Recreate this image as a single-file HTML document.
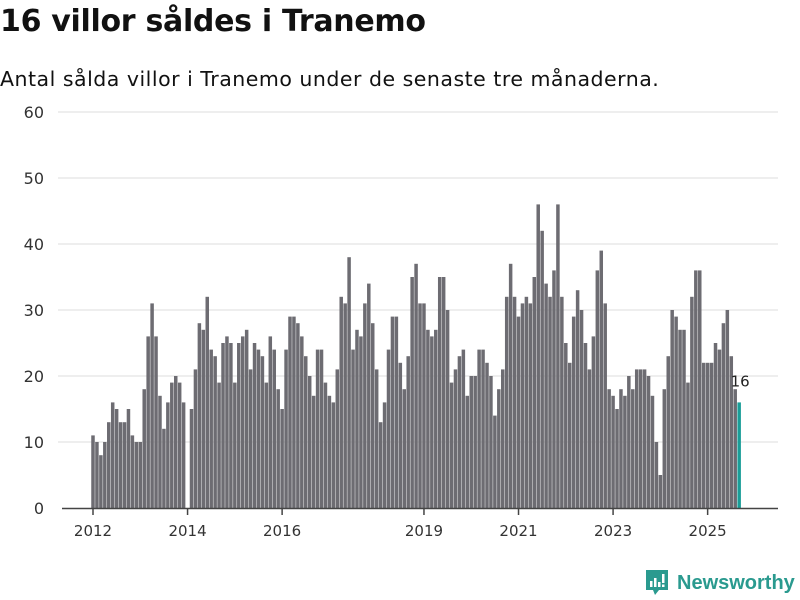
<!DOCTYPE html>
<html><head><meta charset="utf-8"><style>
body{margin:0;width:800px;height:600px;background:#fff;overflow:hidden;font-family:"Liberation Sans",sans-serif;}
#title{position:absolute;left:0;top:4px;font-size:30px;font-weight:bold;color:#111;white-space:nowrap;font-family:"DejaVu Sans",sans-serif;letter-spacing:-0.3px;}
#sub{position:absolute;left:0;top:67px;font-size:20.5px;color:#111;white-space:nowrap;font-family:"DejaVu Sans",sans-serif;letter-spacing:0.5px;}
#logo{position:absolute;left:645px;top:569px;display:flex;align-items:center;color:#2a9a8f;font-size:20px;font-weight:bold;}
</style></head><body>
<div id="title">16 villor såldes i Tranemo</div>
<div id="sub">Antal sålda villor i Tranemo under de senaste tre månaderna.</div>
<svg id="chart" width="800" height="600" style="position:absolute;left:0;top:0"></svg>
<div id="logo">
<svg width="24" height="28" viewBox="0 0 24 28"><path d="M1 1h22v20H14l-4 5-2-5H1z" fill="#2a9a8f"/><rect x="5" y="12" width="2.5" height="6" fill="#fff"/><rect x="9" y="9" width="2.5" height="9" fill="#fff"/><rect x="13" y="13" width="2.5" height="5" fill="#fff"/><rect x="17" y="5" width="2.5" height="9" fill="#fff"/><rect x="17" y="15.5" width="2.5" height="2.5" fill="#fff"/></svg>
<span style="margin-left:8px">Newsworthy</span></div>
<script>
const values=[11,10,8,10,13,16,15,13,13,15,11,10,10,18,26,31,26,17,12,16,19,20,19,16,null,
15,21,28,27,32,24,23,19,25,26,25,19,25,26,27,21,25,24,23,19,26,24,18,15,24,29,29,28,26,23,20,17,24,24,19,17,16,21,32,31,38,24,27,26,
31,34,28,21,13,16,24,29,29,22,18,23,35,37,31,31,27,26,27,35,35,30,19,21,23,24,17,20,20,24,24,22,20,14,
18,21,32,37,32,29,31,32,31,35,46,42,34,32,36,46,32,25,22,29,33,30,25,21,26,36,39,31,18,17,15,18,17,20,
18,21,21,21,20,17,10,5,18,23,30,29,27,27,19,32,36,36,22,22,22,25,24,28,30,23,18,16];
const yTicks=[0,10,20,30,40,50,60];
const xTickLabels=["2012","2014","2016","2019","2021","2023","2025"];
const xTickIndex=[0,24,48,84,108,132,156];
const lastLabel="16";
const NS="http://www.w3.org/2000/svg";
const svg=document.getElementById('chart');
const y=v=>508-v*6.6;
const x=i=>93+i*3.94;
function mk(t,a){const e=document.createElementNS(NS,t);for(const k in a)e.setAttribute(k,a[k]);svg.appendChild(e);return e;}
yTicks.forEach(v=>{
 if(v>0){const g=mk('line',{x1:58,x2:778,y1:y(v),y2:y(v),stroke:'#dcdcdc','stroke-width':1});
 
 }
 const t=mk('text',{x:44,y:y(v)+6,'text-anchor':'end','font-size':16,fill:'#333','font-family':'DejaVu Sans, sans-serif'});
 t.textContent=v;
 
 
});
values.forEach((v,i)=>{
 if(v==null)return;
 const last=i===values.length-1;
 const r=mk('rect',{x:x(i)-1.75,y:y(v),width:3.5,height:v*6.6,fill:last?'#1a9e98':'#6d6c72'});
 
 
});
const li=values.length-1;
const lb=mk('text',{x:x(li)+1,y:y(values[li])-16,'text-anchor':'middle','font-size':15,fill:'#222','font-family':'DejaVu Sans, sans-serif'});
lb.textContent=lastLabel;


const ax=mk('line',{x1:62,x2:778,y1:508.5,y2:508.5,stroke:'#444','stroke-width':1.5});


xTickLabels.forEach((l,k)=>{
 const tx=x(xTickIndex[k]);
 const tk=mk('line',{x1:tx,x2:tx,y1:508,y2:515,stroke:'#444','stroke-width':1.5});
 
 
 const t=mk('text',{x:tx,y:536,'text-anchor':'middle','font-size':15,fill:'#333','font-family':'DejaVu Sans, sans-serif'});
 t.textContent=l;
 
 
});
</script>
</body></html>
